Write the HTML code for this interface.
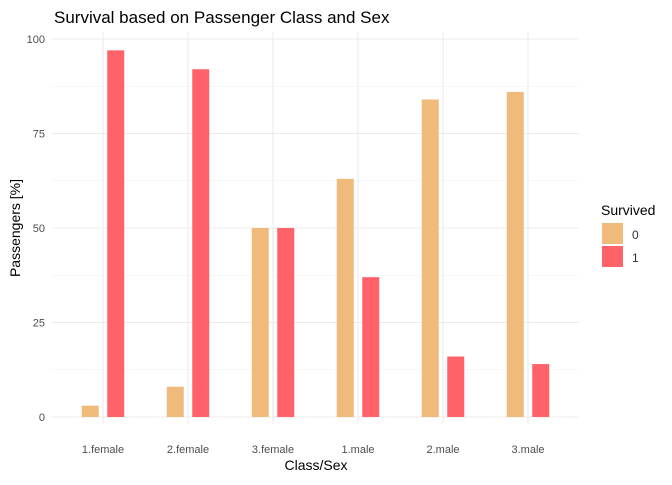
<!DOCTYPE html>
<html><head><meta charset="utf-8"><style>
body{margin:0;background:#fff;font-family:"Liberation Sans",sans-serif}
svg text{font-family:"Liberation Sans",sans-serif}
</style></head><body>
<svg width="672" height="480">
<g id="grid"></g>
<g id="bars"></g>
<g id="axes"></g>
<text x="54" y="23" font-size="17" fill="#000">Survival based on Passenger Class and Sex</text>
<text x="316" y="470" font-size="14" text-anchor="middle" fill="#000">Class/Sex</text>
<text transform="translate(20,228) rotate(-90)" font-size="14" text-anchor="middle" fill="#000">Passengers [%]</text>
<g>
<text x="601" y="215" font-size="14" fill="#000">Survived</text>
<rect x="602" y="223" width="21" height="21" fill="#F0BA7B"/>
<text x="632" y="239" font-size="12" fill="#333">0</text>
<rect x="602" y="246" width="21" height="21" fill="#FF6268"/>
<text x="632" y="262" font-size="12" fill="#333">1</text>
</g>
</svg>
<script>
const categories=["1.female","2.female","3.female","1.male","2.male","3.male"];
const died=[3,8,50,63,84,86];
const survived=[97,92,50,37,16,14];
const yTicks=[0,25,50,75,100];
const NS="http://www.w3.org/2000/svg";
const left=52,right=579,y0=417,y100=39;
const band=(right-left)/(categories.length+0.2);
function xs(i){return left+band*(0.6+i);}
function ys(v){return y0-(y0-y100)*v/100;}
function mk(t,a,p){const e=document.createElementNS(NS,t);for(const k in a)e.setAttribute(k,a[k]);p.appendChild(e);return e;}
const grid=document.getElementById('grid'),bars=document.getElementById('bars'),axes=document.getElementById('axes');
for(let v=12.5;v<100;v+=25){const l=mk('line',{x1:left,x2:right,y1:ys(v),y2:ys(v),stroke:'#f0f0f0','stroke-width':0.6},grid);

}
yTicks.forEach(v=>{const l=mk('line',{x1:left,x2:right,y1:ys(v),y2:ys(v),stroke:'#ebebeb','stroke-width':1.1},grid);


const t=mk('text',{x:45,y:ys(v)+4,'font-size':11,'text-anchor':'end',fill:'#4d4d4d'},axes);t.textContent=v;

});
categories.forEach((c,i)=>{const x=xs(i);
const l=mk('line',{x1:x,x2:x,y1:32,y2:424,stroke:'#ebebeb','stroke-width':1.1},grid);


const w=band*0.2;
const b0=mk('rect',{x:x-band*0.15-w/2,y:ys(died[i]),width:w,height:y0-ys(died[i]),fill:'#F0BA7B'},bars);


const b1=mk('rect',{x:x+band*0.15-w/2,y:ys(survived[i]),width:w,height:y0-ys(survived[i]),fill:'#FF6268'},bars);


const t=mk('text',{x:x,y:453,'font-size':11,'text-anchor':'middle',fill:'#4d4d4d'},axes);t.textContent=c;

});
</script>
</body></html>
